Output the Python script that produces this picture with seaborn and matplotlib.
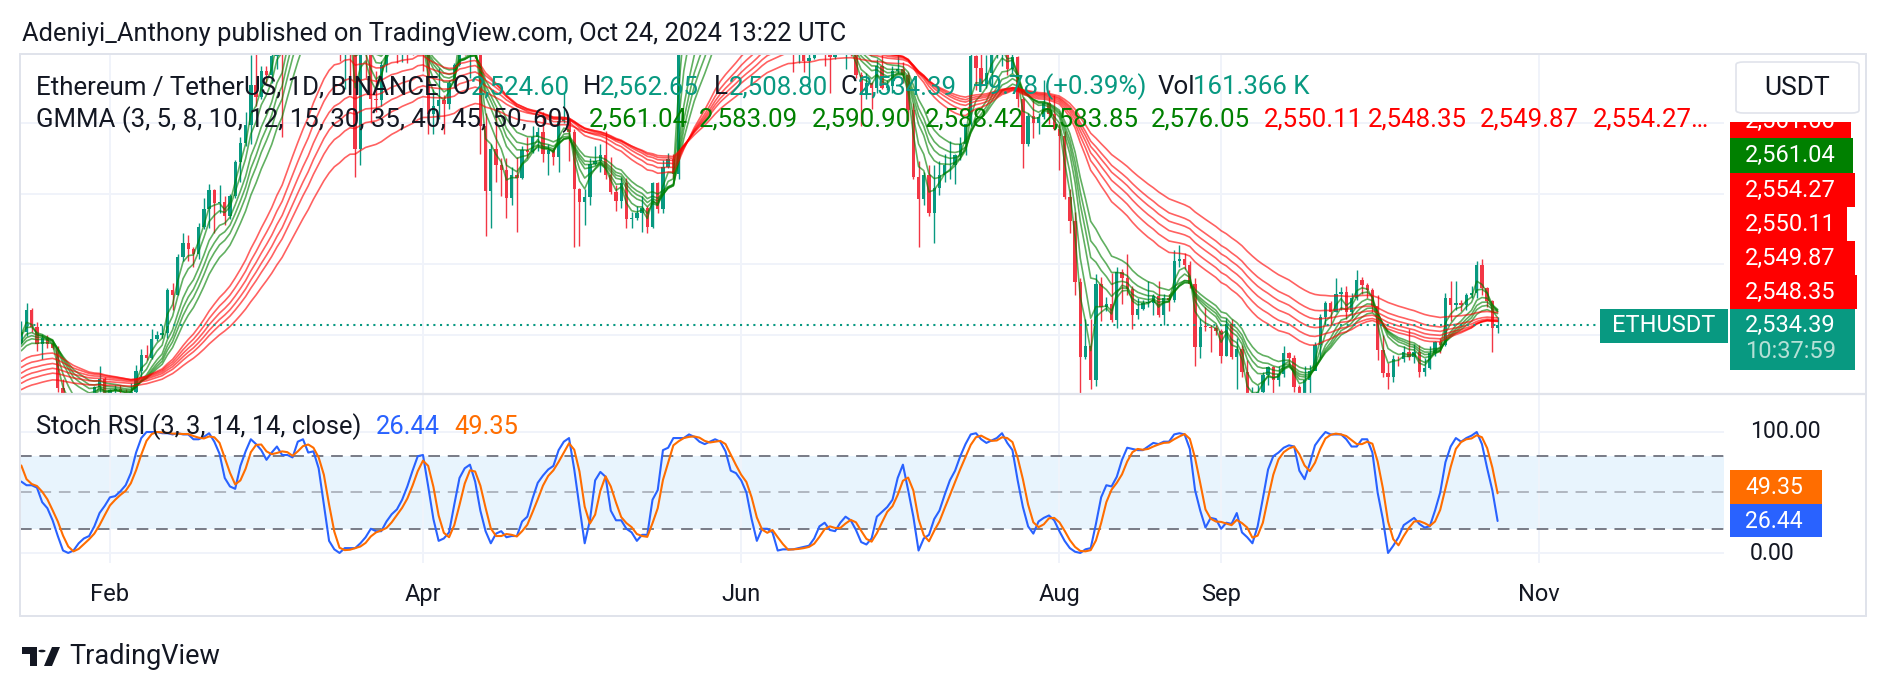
import numpy as np
import pandas as pd
import seaborn as sns
import matplotlib.pyplot as plt
import matplotlib.dates as mdates
from matplotlib.patches import Rectangle, FancyBboxPatch, Polygon, Circle

# ETH/USDT daily candles, 2024-01-15 .. 2024-10-24 (clipped parts estimated)
first_open = 2472.0
closes = [
    2511, 2587, 2529, 2468, 2490, 2470, 2453, 2313, 2240, 2236, 2218, 2268, 2267, 2256, 2317, 2345, 2283,
    2304, 2309, 2297, 2290, 2298, 2373, 2431, 2419, 2486, 2500, 2506, 2659, 2641, 2777, 2824, 2803, 2786,
    2881, 2945, 3013, 2968, 2971, 2922, 2992, 3112, 3179, 3243, 3385, 3340,
    3433, 3420, 3488, 3628, 3553, 3818, 3868, 3890, 3909, 3877, 4066, 3982, 4004, 3883, 3739, 3523, 3645,
    3516, 3159, 3516, 3492, 3334, 3330, 3454, 3590, 3588, 3500, 3561, 3510, 3506, 3645,
    3505, 3280, 3310, 3330, 3318, 3390, 3455, 3700, 3505, 3545, 3503, 3240, 3008, 3157, 3101, 3085, 2985,
    3065, 3055, 3155, 3148, 3200, 3219, 3139, 3155, 3130, 3255, 3263, 3216, 3015,
    2970, 2989, 3103, 3117, 3137, 3064, 3007, 2975, 3036, 2910, 2912, 2930, 2950, 2882, 3037, 2945, 3093,
    3123, 3071, 3662, 3789, 3739, 3780, 3726, 3750, 3827, 3892, 3842, 3767, 3747, 3762,
    3814, 3780, 3766, 3810, 3865, 3812, 3679, 3680, 3706, 3666, 3497, 3561, 3469, 3479, 3566, 3621, 3511,
    3483, 3561, 3515, 3518, 3491, 3420, 3350, 3392, 3372, 3450, 3375, 3381, 3434,
    3440, 3420, 3295, 3060, 2982, 3067, 2930, 3020, 3066, 3100, 3100, 3135, 3175, 3245, 3485, 3445, 3388,
    3426, 3505, 3517, 3535, 3442, 3482, 3336, 3175, 3275, 3249, 3270, 3320, 3280, 3230,
    3205, 2988, 2904, 2689, 2421, 2461, 2342, 2682, 2598, 2609, 2554, 2723, 2703, 2663, 2571, 2593, 2613,
    2613, 2638, 2572, 2631, 2623, 2763, 2768, 2747, 2681, 2457, 2529, 2528, 2525, 2513,
    2426, 2539, 2423, 2450, 2368, 2225, 2273, 2298, 2359, 2388, 2340, 2361, 2437, 2418, 2316, 2295, 2341,
    2374, 2465, 2562, 2613, 2580, 2646, 2652, 2580, 2632, 2695, 2677, 2658, 2603,
    2448, 2364, 2350, 2415, 2414, 2440, 2422, 2440, 2370, 2385, 2438, 2475, 2466, 2630, 2606, 2612, 2605,
    2643, 2647, 2747, 2667, 2621, 2524.6, 2534.39,
]
highs = [
    2551, 2614, 2595, 2545, 2505, 2500, 2475, 2460, 2345, 2260, 2245, 2275, 2285, 2300, 2320, 2390, 2350,
    2310, 2325, 2325, 2310, 2330, 2395, 2450, 2465, 2520, 2515, 2535, 2665, 2685, 2785, 2860, 2855, 2810,
    2895, 2985, 3035, 3015, 3030, 2990, 3000, 3120, 3200, 3290, 3490, 3520,
    3450, 3450, 3500, 3630, 3825, 3900, 3930, 3995, 3945, 3960, 4090, 4090, 4085, 4010, 3935, 3780, 3680,
    3650, 3545, 3590, 3590, 3545, 3435, 3470, 3680, 3680, 3665, 3610, 3590, 3560, 3650,
    3660, 3510, 3370, 3445, 3350, 3400, 3460, 3730, 3725, 3560, 3615, 3560, 3285, 3175, 3280, 3125, 3125,
    3095, 3130, 3170, 3200, 3240, 3235, 3290, 3175, 3160, 3255, 3355, 3265, 3230,
    3020, 3015, 3125, 3170, 3175, 3220, 3130, 3030, 3060, 3055, 2935, 2955, 2990, 2955, 3040, 3040, 3120,
    3145, 3140, 3690, 3840, 3810, 3950, 3830, 3780, 3850, 3975, 3925, 3880, 3820, 3850,
    3830, 3840, 3850, 3830, 3890, 3880, 3840, 3715, 3720, 3715, 3680, 3660, 3560, 3525, 3590, 3655, 3645,
    3520, 3590, 3630, 3545, 3530, 3525, 3430, 3425, 3395, 3475, 3490, 3400, 3450,
    3525, 3465, 3430, 3320, 3115, 3075, 3100, 3100, 3115, 3140, 3185, 3140, 3200, 3245, 3500, 3490, 3515,
    3490, 3540, 3540, 3550, 3565, 3540, 3485, 3340, 3285, 3330, 3285, 3400, 3365, 3350,
    3245, 3220, 3015, 2935, 2700, 2555, 2555, 2715, 2705, 2635, 2720, 2740, 2735, 2785, 2675, 2630, 2625,
    2690, 2645, 2690, 2645, 2645, 2800, 2820, 2790, 2760, 2700, 2560, 2600, 2535, 2535,
    2520, 2560, 2555, 2490, 2465, 2410, 2315, 2325, 2370, 2390, 2390, 2390, 2460, 2440, 2430, 2325, 2390,
    2395, 2475, 2575, 2620, 2620, 2700, 2670, 2675, 2650, 2730, 2705, 2685, 2665,
    2640, 2500, 2400, 2430, 2425, 2460, 2520, 2470, 2465, 2420, 2460, 2480, 2490, 2650, 2690, 2690, 2625,
    2650, 2675, 2760, 2770, 2670, 2625, 2562.65,
]
lows = [
    2470, 2497, 2510, 2445, 2415, 2455, 2450, 2300, 2168, 2205, 2195, 2210, 2255, 2245, 2230, 2300, 2265,
    2245, 2285, 2285, 2270, 2280, 2295, 2350, 2410, 2415, 2480, 2490, 2490, 2590, 2640, 2760, 2760, 2740,
    2770, 2875, 2880, 2860, 2930, 2890, 2910, 2985, 3040, 3170, 3175, 3310,
    3335, 3390, 3390, 3440, 3200, 3520, 3740, 3830, 3880, 3815, 3725, 3840, 3935, 3720, 3570, 3470, 3370,
    3400, 3060, 3100, 3410, 3250, 3290, 3310, 3430, 3560, 3460, 3465, 3460, 3490, 3500,
    3435, 3210, 3210, 3265, 3210, 3300, 3375, 3450, 3490, 3410, 3480, 3140, 2850, 2880, 3040, 2990, 2915,
    2960, 2865, 3050, 3125, 3145, 3150, 3110, 3065, 3100, 3075, 3250, 3115, 2810,
    2815, 2890, 2960, 3100, 3075, 3050, 3000, 2940, 2950, 2880, 2880, 2905, 2865, 2860, 2880, 2930, 2930,
    3090, 3055, 3050, 3585, 3675, 3500, 3625, 3710, 3735, 3815, 3775, 3745, 3700, 3725,
    3755, 3760, 3755, 3730, 3780, 3775, 3630, 3670, 3670, 3640, 3430, 3460, 3430, 3370, 3475, 3550, 3450,
    3355, 3475, 3495, 3440, 3485, 3410, 3240, 3335, 3300, 3355, 3370, 3365, 3355,
    3425, 3390, 3255, 3050, 2810, 2960, 2920, 2825, 2995, 3040, 3050, 3035, 3120, 3135, 3240, 3365, 3380,
    3375, 3380, 3480, 3450, 3420, 3425, 3305, 3090, 3170, 3195, 3210, 3265, 3245, 3225,
    3085, 2980, 2860, 2640, 2110, 2415, 2310, 2320, 2550, 2585, 2545, 2525, 2610, 2640, 2520, 2555, 2590,
    2600, 2570, 2565, 2535, 2585, 2615, 2740, 2735, 2665, 2390, 2420, 2515, 2440, 2500,
    2400, 2425, 2415, 2310, 2350, 2150, 2230, 2265, 2285, 2325, 2280, 2320, 2350, 2395, 2300, 2255, 2275,
    2275, 2375, 2420, 2535, 2540, 2580, 2590, 2555, 2560, 2625, 2645, 2630, 2580,
    2410, 2350, 2310, 2335, 2390, 2405, 2410, 2400, 2350, 2355, 2380, 2425, 2435, 2460, 2550, 2590, 2585,
    2590, 2630, 2630, 2640, 2600, 2440, 2508.8,
]

# GMMA periods and the line levels at the left edge of the chart
short_periods = [3, 5, 8, 10, 12, 15]
long_periods = [30, 35, 40, 45, 50, 60]
short_start = [2495, 2490, 2470, 2460, 2450, 2435]
long_start = [2400, 2378, 2358, 2340, 2322, 2300]

# Stoch RSI %K (two values before the first candle for %D)
stoch_k_prior = [90, 68]
stoch_k = [
    59, 56, 56, 54, 42, 37, 27, 14, 2, 0, 2, 8, 12, 14, 22, 33, 39,
    46, 47, 51, 56, 66, 83, 95, 100, 100, 100, 99, 99, 98, 99, 98, 98, 94, 94, 96, 99, 92, 82, 62, 55,
    53, 72, 84, 94, 90,
    85, 77, 83, 88, 81, 81, 79, 92, 94, 83, 84, 70, 40, 10, 3, 0, 4, 4, 4, 8, 13, 20, 18, 18, 26, 32,
    36, 44, 55, 68, 80,
    81, 55, 28, 10, 12, 17, 40, 62, 70, 73, 59, 35, 18, 8, 16, 18, 13, 14, 14, 26, 30, 45, 58, 64, 69,
    72, 85, 92, 95, 69,
    38, 8, 27, 60, 67, 63, 35, 27, 27, 20, 17, 10, 15, 15, 44, 52, 85, 87, 95, 95, 95, 98, 96, 92, 90,
    92, 94, 92, 84, 68, 66,
    60, 50, 28, 10, 20, 20, 17, 2, 3, 3, 3, 4, 5, 6, 12, 22, 25, 19, 18, 25, 30, 27, 19, 9, 7, 12, 30,
    34, 38, 44,
    62, 73, 52, 30, 2, 12, 15, 28, 35, 48, 60, 68, 80, 90, 98, 99, 94, 91, 93, 95, 99, 91, 85, 60, 38,
    22, 16, 26, 29, 31, 27,
    18, 10, 4, 1, 0, 3, 4, 24, 46, 56, 55, 63, 77, 87, 86, 85, 85, 88, 91, 90, 92, 92, 98, 99, 98, 86,
    52, 35, 21, 29, 28,
    20, 25, 24, 33, 17, 13, 8, 22, 45, 69, 80, 83, 87, 89, 88, 68, 61, 74, 89, 95, 100, 98, 98, 98, 94,
    88, 88, 94, 94, 83,
    50, 28, 0, 6, 13, 23, 26, 29, 24, 21, 22, 35, 50, 75, 88, 95, 92, 95, 97, 100, 90, 70, 51.6, 26.44,
]

month_ticks = ["2024-02-01", "2024-04-01", "2024-06-01", "2024-08-01", "2024-09-01", "2024-11-01"]
month_labels = ["Feb", "Apr", "Jun", "Aug", "Sep", "Nov"]

UP, DOWN, TEAL = "#089981", "#F23645", "#089981"
DARK, GRID, BORDER = "#131722", "#F0F3FA", "#E0E3EB"
FS = 18.6  # legend text size

sns.set_theme(style="white")
plt.rcParams["font.family"] = ["Roboto", "DejaVu Sans"]

W, H = 1888, 690
fig = plt.figure(figsize=(W / 100, H / 100), dpi=100)


def fx(px):
    return px / W


def fy(py):
    return 1 - py / H


ax = fig.add_axes([fx(20), fy(393), fx(1724) - fx(20), fy(55) - fy(393)])
axs = fig.add_axes([fx(20), fy(563), fx(1724) - fx(20), fy(395) - fy(563)])

dates = pd.date_range("2024-01-15", periods=len(closes), freq="D")
x = mdates.date2num(dates)
c = np.array(closes, dtype=float)
o = np.concatenate([[first_open], c[:-1]])
hi = np.array(highs, dtype=float)
lo = np.array(lows, dtype=float)

# candles
col = np.where(c >= o, UP, DOWN)
ax.vlines(x, lo, hi, colors=col, lw=1, zorder=2)
ax.bar(x, np.maximum(np.abs(c - o), 2.5), bottom=np.minimum(o, c), width=0.64,
       color=col, linewidth=0, zorder=3)

# GMMA
rows = []
for periods, starts, group in ((short_periods, short_start, "s"), (long_periods, long_start, "l")):
    for p, s0 in zip(periods, starts):
        ema = pd.Series([s0] + closes, dtype=float).ewm(span=p, adjust=False).mean().iloc[1:]
        rows.append(pd.DataFrame({"x": x, "v": ema.values, "period": f"{group}{p}"}))
gmma = pd.concat(rows)
pal = {f"s{p}": "#008000" for p in short_periods}
pal.update({f"l{p}": "#FF0000" for p in long_periods})
sns.lineplot(data=gmma, x="x", y="v", hue="period", palette=pal, legend=False,
             estimator=None, sort=False, lw=1.2, alpha=0.62, ax=ax, zorder=4)

ax.axhline(closes[-1], color=TEAL, ls=(0, (1, 2.2)), lw=1.5, zorder=5)
for lvl in (2500, 2750, 3000, 3250):
    ax.axhline(lvl, color=GRID, lw=1.4, zorder=0)

xmin, xmax = x[0] - 0.25, x[0] + 326.4
ax.set_xlim(xmin, xmax)
ax.set_ylim(2295, 3490)

# Stoch RSI pane
k = pd.Series(stoch_k_prior + stoch_k, dtype=float)
d = k.rolling(3).mean().iloc[len(stoch_k_prior):].values
st = pd.DataFrame({"x": np.concatenate([x, x]),
                   "v": np.concatenate([stoch_k, d]),
                   "line": ["K"] * len(x) + ["D"] * len(x)})
axs.axhspan(20, 80, color="#2196F3", alpha=0.1, lw=0, zorder=0)
for lvl in (0, 100):
    axs.axhline(lvl, color=GRID, lw=1.4, zorder=0)
for lvl, a in ((80, 1), (50, 0.5), (20, 1)):
    axs.axhline(lvl, color="#787B86", alpha=a, ls=(0, (6, 4)), lw=1.4, zorder=1)
sns.lineplot(data=st, x="x", y="v", hue="line", palette={"K": "#2962FF", "D": "#FF6D00"},
             legend=False, estimator=None, sort=False, lw=1.5, ax=axs, zorder=3)
axs.set_xlim(xmin, xmax)
axs.set_ylim(-8.3, 130.6)

tick_x = mdates.date2num(pd.to_datetime(month_ticks))
for a in (ax, axs):
    for t in tick_x:
        a.axvline(t, color=GRID, lw=1.4, zorder=0)
    a.set_xlabel("")
    a.set_ylabel("")
    a.set_yticks([])
    for sp in a.spines.values():
        sp.set_visible(False)
ax.set_xticks([])
axs.set_xticks(tick_x)
axs.set_xticklabels(month_labels, fontsize=17, color=DARK)
axs.tick_params(axis="x", length=0, pad=14.5)

# frame lines
fig.add_artist(Rectangle((fx(20), fy(616)), fx(1866) - fx(20), fy(54) - fy(616),
                         transform=fig.transFigure, fill=False, ec=BORDER, lw=1.4))
fig.add_artist(plt.Line2D([fx(20), fx(1866)], [fy(394), fy(394)], transform=fig.transFigure,
                          color=BORDER, lw=1.6))


def put(px, py, s, color=DARK, size=FS, ha="left", **kw):
    return fig.text(fx(px), fy(py), s, color=color, fontsize=size, ha=ha, va="center", **kw)


# header
put(22, 34, "Adeniyi_Anthony published on TradingView.com, Oct 24, 2024 13:22 UTC", size=18.4)

# legends
put(36, 87, "Ethereum / TetherUS, 1D, BINANCE")
for px, s, colr in ((453, "O", DARK), (471, "2,524.60", TEAL), (583, "H", DARK), (600, "2,562.65", TEAL),
                    (714, "L", DARK), (729, "2,508.80", TEAL), (841, "C", DARK), (858, "2,534.39", TEAL),
                    (973, "+9.78 (+0.39%)", TEAL), (1158, "Vol", DARK), (1193, "161.366 K", TEAL)):
    put(px, 87, s, colr)
put(36, 120, "GMMA (3, 5, 8, 10, 12, 15, 30, 35, 40, 45, 50, 60)")
for px, s in ((589, "2,561.04"), (699, "2,583.09"), (812, "2,590.90"), (925, "2,588.42"),
              (1040, "2,583.85"), (1151, "2,576.05")):
    put(px, 120, s, "#008000")
for px, s in ((1264, "2,550.11"), (1368, "2,548.35"), (1480, "2,549.87"), (1593, "2,554.27…")):
    put(px, 120, s, "#FF0000")

put(36, 427, "Stoch RSI (3, 3, 14, 14, close)", size=18.4)
put(376, 427, "26.44", "#2962FF", size=18.4)
put(454, 427, "49.35", "#FF6D00", size=18.4)

# USDT button
fig.add_artist(FancyBboxPatch((fx(1736), fy(113)), fx(1859) - fx(1736), fy(62) - fy(113),
                              boxstyle="round,pad=0,rounding_size=0.004", transform=fig.transFigure,
                              fc="white", ec=BORDER, lw=1.2))
put(1797, 88, "USDT", size=19, ha="center")

# price scale labels
clip = Rectangle((fx(1730), fy(138)), fx(1856) - fx(1730), fy(122) - fy(138), transform=fig.transFigure)
fig.add_artist(Rectangle((fx(1730), fy(138)), fx(1851) - fx(1730), fy(122) - fy(138),
                         transform=fig.transFigure, fc="#FF0000", ec="none"))
tt = put(1790, 121, "2,561.66", "white", size=17, ha="center")
tt.set_clip_path(clip)
for y0, y1, face, s, x1 in ((138, 173, "#008000", "2,561.04", 1853), (173, 207, "#FF0000", "2,554.27", 1855),
                            (207, 241, "#FF0000", "2,550.11", 1847), (241, 275, "#FF0000", "2,549.87", 1855),
                            (275, 309, "#FF0000", "2,548.35", 1857)):
    fig.add_artist(Rectangle((fx(1730), fy(y1)), fx(x1) - fx(1730), fy(y0) - fy(y1),
                             transform=fig.transFigure, fc=face, ec="none"))
    put(1745, (y0 + y1) / 2, s, "white", size=17)
fig.add_artist(Rectangle((fx(1730), fy(370)), fx(1855) - fx(1730), fy(309) - fy(370),
                         transform=fig.transFigure, fc=TEAL, ec="none"))
put(1745, 325, "2,534.39", "white", size=17)
put(1745, 352, "10:37:59", "#B5E0D6", size=17)
fig.add_artist(Rectangle((fx(1600), fy(343)), fx(1728) - fx(1600), fy(309) - fy(343),
                         transform=fig.transFigure, fc=TEAL, ec="none"))
put(1664, 326, "ETHUSDT", "white", size=17, ha="center")

# stoch scale
put(1750, 431, "100.00", size=16.6)
put(1750, 554, "0.00", size=16.6)
fig.add_artist(Rectangle((fx(1730), fy(504)), fx(1822) - fx(1730), fy(470) - fy(504),
                         transform=fig.transFigure, fc="#FF6D00", ec="none"))
put(1745, 487, "49.35", "white", size=16.6)
fig.add_artist(Rectangle((fx(1730), fy(537)), fx(1822) - fx(1730), fy(504) - fy(537),
                         transform=fig.transFigure, fc="#2962FF", ec="none"))
put(1745, 521, "26.44", "white", size=16.6)

# TradingView logo
for patch in (Polygon([(fx(22), fy(647)), (fx(37), fy(647)), (fx(37), fy(666)), (fx(30), fy(666)),
                       (fx(30), fy(654)), (fx(22), fy(654))]),
              Circle((fx(42), fy(651)), 3.6 / W),
              Polygon([(fx(44), fy(666)), (fx(52), fy(666)), (fx(60), fy(647)), (fx(52), fy(647))])):
    patch.set_transform(fig.transFigure)
    patch.set_facecolor(DARK)
    patch.set_edgecolor("none")
    fig.add_artist(patch)
put(69, 656, "TradingView", size=19.5)

fig.savefig("out.png", dpi=100)
